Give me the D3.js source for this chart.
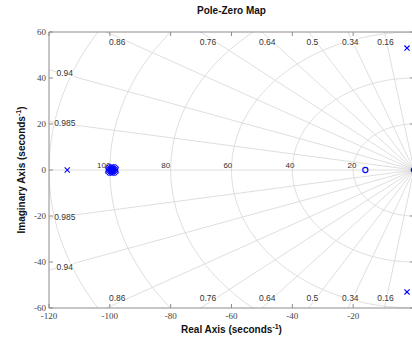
<!DOCTYPE html>
<html>
<head>
<meta charset="utf-8">
<script src="https://cdn.jsdelivr.net/npm/d3@7"></script>
<style>
  body { margin: 0; background: #fff; }
  text { font-family: "Liberation Sans", Arial, sans-serif; }
</style>
</head>
<body>
<svg id="chart" width="412" height="341"></svg>
<script>
// Axis ticks
const xTicks = [-120, -100, -80, -60, -40, -20];
const yTicks = [-60, -40, -20, 0, 20, 40, 60];

// Grid: damping ratios and natural frequencies
const dampingRatios = [0.16, 0.34, 0.5, 0.64, 0.76, 0.86, 0.94, 0.985];
const naturalFreqs = [20, 40, 60, 80, 100, 120];
const freqLabels = [20, 40, 60, 80, 100];

// Poles (real, imag)
const poleReal = [-114, -2.3, -2.3, -97.9, -98.1, -98.5, -99.0, -99.6, -100.1, -100.5, -100.7,
                  -100.5, -100.1, -99.6, -99.0, -98.5, -98.1, -99.3, -99.3, -99.8, -98.8];
const poleImag = [0, 53, -53, 0, 0.6, 1.1, 1.4, 1.4, 1.1, 0.6, 0,
                  -0.6, -1.1, -1.4, -1.4, -1.1, -0.6, 0.5, -0.5, 0, 0];
// Zeros (real, imag)
const zeroReal = [-16, 0];
const zeroImag = [0, 0];

const svg = d3.select("#chart");
const plot = { left: 49, right: 414, top: 32, bottom: 308 };

const x = d3.scaleLinear().domain([-120, 0]).range([plot.left, plot.right]);
const y = d3.scaleLinear().domain([-60, 60]).range([plot.bottom, plot.top]);

svg.append("defs").append("clipPath").attr("id", "plotClip")
  .append("rect")
  .attr("x", plot.left).attr("y", plot.top)
  .attr("width", plot.right - plot.left).attr("height", plot.bottom - plot.top);

const grid = svg.append("g").attr("clip-path", "url(#plotClip)");
const gridColor = "#dadada";

// Real axis (damping = 1)
grid.append("line")
  .attr("x1", x(-120)).attr("x2", x(0))
  .attr("y1", y(0)).attr("y2", y(0))
  .attr("stroke", gridColor).attr("stroke-width", 0.9);

// Constant-damping rays
const R = 300;
dampingRatios.forEach(z => {
  const s = Math.sqrt(1 - z * z);
  [1, -1].forEach(sign => {
    grid.append("line")
      .attr("x1", x(0)).attr("y1", y(0))
      .attr("x2", x(-R * z)).attr("y2", y(sign * R * s))
      .attr("stroke", gridColor).attr("stroke-width", 0.9);
  });
});

// Constant natural-frequency semicircles in the left half plane
const arc = d3.line().x(d => x(d[0])).y(d => y(d[1]));
naturalFreqs.forEach(wn => {
  const pts = d3.range(0, 181, 2).map(deg => {
    const t = (90 + deg) * Math.PI / 180;
    return [wn * Math.cos(t), wn * Math.sin(t)];
  });
  grid.append("path").attr("d", arc(pts))
    .attr("fill", "none").attr("stroke", gridColor).attr("stroke-width", 0.9);
});

// Damping labels at the plot boundary
const lab = svg.append("g");
const k = 0.965;
dampingRatios.forEach(z => {
  const s = Math.sqrt(1 - z * z);
  const xi = -60 * z / s;
  [1, -1].forEach(sign => {
    let px, py, dy;
    if (xi >= -120) {
      px = x(k * xi); py = y(sign * k * 60); dy = sign * 5;
    } else {
      const yi = 120 * s / z;
      px = x(-120 * k) + 3; py = y(sign * k * yi); dy = 0;
    }
    const t = lab.append("text")
      .attr("x", px).attr("y", py + dy)
      .attr("text-anchor", "middle")
      .attr("dominant-baseline", "central")
      .attr("font-size", 8.5)
      .attr("fill", "#333")
      .text(String(z));
    const bb = t.node().getBBox();
    lab.insert("rect", "text")
      .attr("x", bb.x).attr("y", bb.y + 1)
      .attr("width", bb.width).attr("height", bb.height - 2)
      .attr("fill", "#fff");
  });
});

// Natural frequency labels on the real axis
freqLabels.forEach(wn => {
  lab.append("text")
    .attr("x", x(-wn * 1.02)).attr("y", y(0) - 2)
    .attr("text-anchor", "middle")
    .attr("font-size", 8)
    .attr("fill", "#333")
    .text(wn);
});

// Axes frame and ticks
const axisColor = "#8c8c8c";
const frame = svg.append("g");
frame.append("line").attr("x1", plot.left).attr("x2", plot.right)
  .attr("y1", plot.bottom).attr("y2", plot.bottom).attr("stroke", axisColor);
frame.append("line").attr("x1", plot.left).attr("x2", plot.right)
  .attr("y1", plot.top).attr("y2", plot.top).attr("stroke", axisColor);
frame.append("line").attr("x1", plot.left).attr("x2", plot.left)
  .attr("y1", plot.top).attr("y2", plot.bottom).attr("stroke", axisColor);
frame.append("line").attr("x1", plot.right).attr("x2", plot.right)
  .attr("y1", plot.top).attr("y2", plot.bottom).attr("stroke", axisColor);

const tl = 4;
xTicks.forEach(v => {
  frame.append("line").attr("x1", x(v)).attr("x2", x(v))
    .attr("y1", plot.bottom).attr("y2", plot.bottom - tl).attr("stroke", axisColor);
  frame.append("line").attr("x1", x(v)).attr("x2", x(v))
    .attr("y1", plot.top).attr("y2", plot.top + tl).attr("stroke", axisColor);
  frame.append("text")
    .attr("x", x(v)).attr("y", plot.bottom + 11)
    .attr("text-anchor", "middle")
    .style("font-family", "'Liberation Serif', 'Times New Roman', serif")
    .attr("font-size", 9).attr("fill", "#444")
    .text(v);
});
yTicks.forEach(v => {
  frame.append("line").attr("x1", plot.left).attr("x2", plot.left + tl)
    .attr("y1", y(v)).attr("y2", y(v)).attr("stroke", axisColor);
  frame.append("line").attr("x1", plot.right).attr("x2", plot.right - tl)
    .attr("y1", y(v)).attr("y2", y(v)).attr("stroke", axisColor);
  frame.append("text")
    .attr("x", plot.left - 3).attr("y", y(v))
    .attr("text-anchor", "end")
    .attr("dominant-baseline", "central")
    .style("font-family", "'Liberation Serif', 'Times New Roman', serif")
    .attr("font-size", 9).attr("fill", "#444")
    .text(v);
});

// Poles and zeros
const marks = svg.append("g");
const blue = "#0000ff";
poleReal.forEach((re, i) => {
  const cx = x(re), cy = y(poleImag[i]), r = 2.6;
  marks.append("path")
    .attr("d", `M${cx - r},${cy - r}L${cx + r},${cy + r}M${cx - r},${cy + r}L${cx + r},${cy - r}`)
    .attr("stroke", blue).attr("stroke-width", 1.1).attr("fill", "none");
});
zeroReal.forEach((re, i) => {
  marks.append("circle")
    .attr("cx", x(re)).attr("cy", y(zeroImag[i])).attr("r", 2.6)
    .attr("stroke", blue).attr("stroke-width", 1.1).attr("fill", "none");
});

// Titles
svg.append("text")
  .attr("x", (plot.left + plot.right) / 2).attr("y", 14)
  .attr("text-anchor", "middle").attr("font-weight", "bold")
  .attr("font-size", 10).attr("fill", "#111")
  .text("Pole-Zero Map");

const xl = svg.append("text")
  .attr("x", (plot.left + plot.right) / 2).attr("y", 333)
  .attr("text-anchor", "middle").attr("font-weight", "bold")
  .attr("font-size", 10).attr("fill", "#111");
xl.append("tspan").text("Real Axis (seconds");
xl.append("tspan").attr("font-size", 7).attr("dy", -4).text("-1");
xl.append("tspan").attr("dy", 4).text(")");

const yl = svg.append("text")
  .attr("transform", `translate(25,${(plot.top + plot.bottom) / 2}) rotate(-90)`)
  .attr("text-anchor", "middle").attr("font-weight", "bold")
  .attr("font-size", 10).attr("fill", "#111");
yl.append("tspan").text("Imaginary Axis (seconds");
yl.append("tspan").attr("font-size", 7).attr("dy", -4).text("-1");
yl.append("tspan").attr("dy", 4).text(")");
</script>
</body>
</html>
